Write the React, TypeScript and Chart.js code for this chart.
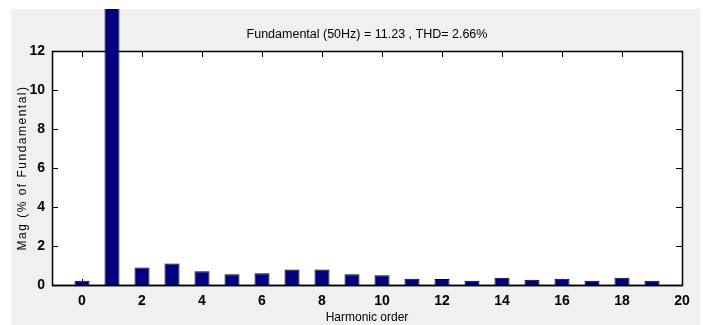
import React, { useEffect, useRef } from 'react';
import { Chart, registerables } from 'chart.js';

Chart.register(...registerables);

const harmonicOrders = [0, 1, 2, 3, 4, 5, 6, 7, 8, 9, 10, 11, 12, 13, 14, 15, 16, 17, 18, 19];
const magnitudes = [0.22, 100, 0.9, 1.1, 0.7, 0.55, 0.6, 0.8, 0.8, 0.55, 0.5, 0.32, 0.31, 0.22, 0.37, 0.27, 0.32, 0.22, 0.37, 0.22];
const xTickValues = [0, 2, 4, 6, 8, 10, 12, 14, 16, 18, 20];
const yTickValues = [0, 2, 4, 6, 8, 10, 12];
const titleText = 'Fundamental (50Hz) = 11.23 , THD= 2.66%';
const xAxisLabel = 'Harmonic order';
const yAxisLabel = 'Mag (% of Fundamental)';

const REGULAR = '"Liberation Sans", Arial, Helvetica, sans-serif';

const boxPlugin = {
  id: 'matlabBox',
  beforeDraw(chart: any) {
    const { ctx, chartArea: a } = chart;
    ctx.save();
    ctx.fillStyle = '#ffffff';
    ctx.fillRect(a.left, a.top, a.right - a.left, a.bottom - a.top);
    ctx.restore();
  },
  beforeDatasetsDraw(chart: any) {
    const { ctx, chartArea: a, scales } = chart;
    const tl = 6;
    ctx.save();
    ctx.strokeStyle = '#000000';
    ctx.lineWidth = 1;
    ctx.beginPath();
    for (const v of xTickValues) {
      const px = Math.round(scales.x.getPixelForValue(v)) + 0.5;
      ctx.moveTo(px, a.bottom);
      ctx.lineTo(px, a.bottom - tl);
      ctx.moveTo(px, a.top);
      ctx.lineTo(px, a.top + tl);
    }
    for (const v of yTickValues) {
      const py = Math.round(scales.y.getPixelForValue(v)) + 0.5;
      ctx.moveTo(a.left, py);
      ctx.lineTo(a.left + tl, py);
      ctx.moveTo(a.right, py);
      ctx.lineTo(a.right - tl, py);
    }
    ctx.stroke();
    ctx.lineWidth = 1.5;
    ctx.strokeRect(a.left + 0.5, a.top + 0.5, a.right - a.left, a.bottom - a.top);
    ctx.restore();
  },
  afterDatasetsDraw(chart: any) {
    const { ctx, chartArea: a } = chart;
    ctx.save();
    ctx.strokeStyle = '#000000';
    ctx.lineWidth = 1.5;
    ctx.beginPath();
    ctx.moveTo(a.left, a.bottom + 0.5);
    ctx.lineTo(a.right + 1, a.bottom + 0.5);
    ctx.stroke();
    ctx.restore();
  },
  afterLayout(chart: any) {
    const y = chart.scales.y;
    if (y && !y.__patched) {
      const orig = y.drawTitle.bind(y);
      y.drawTitle = function (...args: any[]) {
        const c = this.ctx;
        c.save();
        c.letterSpacing = '1.5px';
        orig(...args);
        c.restore();
      };
      y.__patched = true;
    }
  },
};

export default function App() {
  const canvasRef = useRef<HTMLCanvasElement | null>(null);

  useEffect(() => {
    if (!canvasRef.current) return;
    const chart = new Chart(canvasRef.current, {
      type: 'bar',
      data: {
        datasets: [
          {
            data: harmonicOrders.map((h, i) => ({ x: h, y: magnitudes[i] })),
            backgroundColor: '#000080',
            borderColor: '#000000',
            borderWidth: 1,
            barPercentage: 0.5,
            categoryPercentage: 1,
            clip: false as any,
          },
        ],
      },
      options: {
        animation: false,
        responsive: false,
        maintainAspectRatio: false,
        layout: { padding: { left: 0, right: 18, top: 0, bottom: 0 } },
        plugins: {
          legend: { display: false },
          tooltip: { enabled: false },
          title: {
            display: true,
            text: titleText,
            fullSize: false,
            color: '#000000',
            font: { family: REGULAR, size: 12.5, weight: 'normal', lineHeight: 1.2 },
            padding: { top: 18, bottom: 9 },
          },
        },
        scales: {
          x: {
            type: 'linear',
            min: -1,
            max: 20,
            offset: false,
            grid: { display: false, drawTicks: false },
            border: { display: false },
            afterBuildTicks: (s: any) => {
              s.ticks = xTickValues.map((v) => ({ value: v }));
            },
            afterFit: (s: any) => {
              s.height = 40;
            },
            ticks: {
              color: '#000000',
              padding: 8,
              maxRotation: 0,
              autoSkip: false,
              font: { family: REGULAR, size: 14, weight: 'bold' },
            },
            title: {
              display: true,
              text: xAxisLabel,
              color: '#000000',
              font: { family: REGULAR, size: 12, weight: 'normal', lineHeight: 1 },
              padding: { top: 0, bottom: 1 },
            },
          },
          y: {
            type: 'linear',
            min: 0,
            max: 12,
            grid: { display: false, drawTicks: false },
            border: { display: false },
            afterBuildTicks: (s: any) => {
              s.ticks = yTickValues.map((v) => ({ value: v }));
            },
            afterFit: (s: any) => {
              s.width = 41;
            },
            ticks: {
              color: '#000000',
              padding: 7,
              font: { family: REGULAR, size: 14, weight: 'bold' },
            },
            title: {
              display: true,
              text: yAxisLabel,
              color: '#000000',
              font: { family: REGULAR, size: 12, weight: 'normal' },
              padding: { top: 4, bottom: 0 },
            },
          },
        },
      },
      plugins: [boxPlugin],
    } as any);
    return () => chart.destroy();
  }, []);

  return (
    <div
      style={{
        position: 'absolute',
        left: 11,
        top: 9,
        width: 689,
        height: 316,
        background: '#f0f0f0',
      }}
    >
      <canvas ref={canvasRef} width={689} height={316} style={{ display: 'block', width: 689, height: 316 }} />
    </div>
  );
}
